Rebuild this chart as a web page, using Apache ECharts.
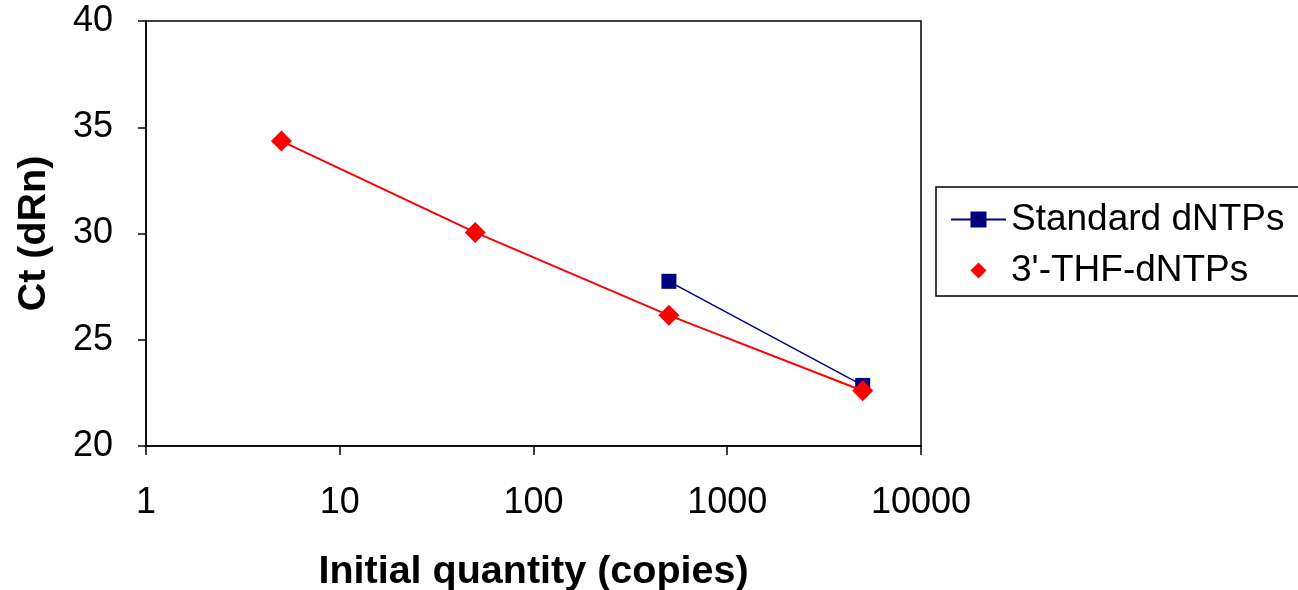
<!DOCTYPE html>
<html>
<head>
<meta charset="utf-8">
<script src="https://cdn.jsdelivr.net/npm/echarts@6/dist/echarts.min.js"></script>
<style>
    html, body { margin: 0; padding: 0; background: #fff; }
    #main { width: 1298px; height: 590px; }
</style>
</head>
<body>
<div id="main"></div>
<script>
    // copies on the x axis, Ct on the y axis
    var standardX = [500, 5000];
    var standardY = [27.75, 22.85];
    var thfX = [5, 50, 500, 5000];
    var thfY = [34.35, 30.05, 26.15, 22.6];
    var seriesNames = ['Standard dNTPs', "3'-THF-dNTPs"];

    function pairs(xs, ys) {
        return xs.map(function (x, i) { return [x, ys[i]]; });
    }

    var myChart = echarts.init(document.getElementById('main'));
    var font = 'Liberation Sans, Arial, sans-serif';

    var option = {
        animation: false,
        backgroundColor: '#fff',
        grid: {
            left: 146,
            right: 377,
            top: 21,
            bottom: 144,
            outerBoundsMode: 'none',
            show: true,
            borderColor: '#000',
            borderWidth: 1.5
        },
        legend: {
            orient: 'vertical',
            left: 936,
            top: 187,
            padding: [14, 60, 7, 14],
            itemGap: 14,
            itemWidth: 55,
            itemHeight: 20,
            backgroundColor: '#fff',
            borderColor: '#000',
            borderWidth: 1.5,
            borderRadius: 0,
            textStyle: {
                fontFamily: font,
                fontSize: 37,
                color: '#000',
                lineHeight: 37
            },
            data: [
                {name: seriesNames[0]},
                // marker only in the legend, no line
                {name: seriesNames[1], lineStyle: {opacity: 0}}
            ]
        },
        xAxis: {
            type: 'log',
            logBase: 10,
            min: 1,
            max: 10000,
            name: 'Initial quantity (copies)',
            nameLocation: 'middle',
            nameGap: 106,
            nameTextStyle: {
                fontFamily: font,
                fontSize: 39.5,
                fontWeight: 'bold',
                color: '#000'
            },
            axisLine: {lineStyle: {color: '#000', width: 1.5}},
            axisTick: {show: true, length: 9, lineStyle: {color: '#000', width: 1.5}},
            minorTick: {show: false},
            splitLine: {show: false},
            axisLabel: {
                fontFamily: font,
                fontSize: 36,
                color: '#000',
                margin: 39,
                formatter: function (v) { return String(v); }
            }
        },
        yAxis: {
            type: 'value',
            min: 20,
            max: 40,
            interval: 5,
            name: 'Ct (dRn)',
            nameLocation: 'middle',
            nameGap: 92,
            nameTextStyle: {
                fontFamily: font,
                fontSize: 39.5,
                fontWeight: 'bold',
                color: '#000'
            },
            axisLine: {show: true, lineStyle: {color: '#000', width: 1.5}},
            axisTick: {show: true, length: 8, lineStyle: {color: '#000', width: 1.5}},
            splitLine: {show: false},
            axisLabel: {
                fontFamily: font,
                fontSize: 36,
                color: '#000',
                margin: 33
            }
        },
        series: [
            {
                name: seriesNames[0],
                type: 'line',
                data: pairs(standardX, standardY),
                symbol: 'rect',
                symbolSize: 15,
                itemStyle: {color: '#000080'},
                lineStyle: {color: '#000080', width: 1.5},
                z: 3
            },
            {
                name: seriesNames[1],
                type: 'line',
                data: pairs(thfX, thfY),
                symbol: 'diamond',
                symbolSize: 21,
                itemStyle: {color: '#ff0000'},
                lineStyle: {color: '#ff0000', width: 2},
                z: 4
            }
        ]
    };

    myChart.setOption(option);
</script>
</body>
</html>
